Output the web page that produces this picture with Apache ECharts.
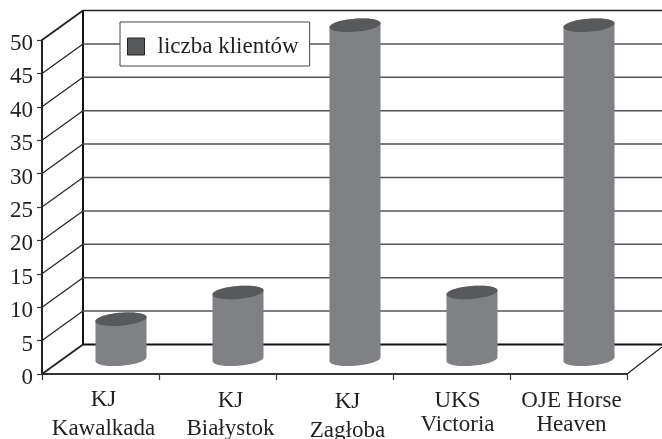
<!DOCTYPE html>
<html>
<head>
<meta charset="utf-8">
<title>liczba klientów</title>
<script src="https://cdn.jsdelivr.net/npm/echarts@6/dist/echarts.min.js"></script>
<style>
  html, body { margin: 0; padding: 0; background: #fff; }
  #chart { width: 662px; height: 439px; }
</style>
</head>
<body>
<div id="chart"></div>
<script>
// dane z wykresu
const categories = ['KJ\nKawalkada', 'KJ\nBiałystok', 'KJ\nZagłoba', 'UKS\nVictoria', 'OJE Horse\nHeaven']
const clients = [6, 10, 50, 10, 50]
const yTicks = [0, 5, 10, 15, 20, 25, 30, 35, 40, 45, 50]
const seriesName = 'liczba klientów'

const textColor = '#231f20'
const fontFamily = '"Liberation Serif", "Times New Roman", serif'
// przesuniecie tylnej sciany wzgledem przedniej osi
const depthX = 41
const depthY = -29.5
// korekty podpisow osi x: [przesuniecie x, wysokosc linii, odstep od gory]
const labelStyles = [[3, 29, 0], [13, 28, 2], [13, 29, 2], [6, 24, 4], [3, 24, 4]]

const chart = echarts.init(document.getElementById('chart'))

const wallStyle = (value) => ({
  stroke: value === 0 ? '#111' : value === 50 ? '#222' : '#555',
  lineWidth: value === 0 ? 2 : 1.5
})

// tylna sciana: linia pozioma i skos do osi y
const renderWall = (params, api) => {
  const value = api.value(0)
  const sys = params.coordSys
  const y = api.coord([0, value])[1]
  const left = sys.x
  const children = [
    {
      type: 'line',
      shape: { x1: left + depthX, y1: y + depthY, x2: 662, y2: y + depthY },
      style: wallStyle(value)
    },
    {
      type: 'line',
      shape: { x1: left, y1: y, x2: left + depthX, y2: y + depthY },
      style: { stroke: '#222', lineWidth: value === 0 || value === 50 ? 1.8 : 1.2 }
    }
  ]
  if (value === 0) {
    children.push({
      type: 'line',
      shape: { x1: left + depthX, y1: y + depthY, x2: left + depthX, y2: api.coord([0, 50])[1] + depthY },
      style: { stroke: '#111', lineWidth: 2 }
    })
    children.push({
      type: 'line',
      shape: { x1: left + sys.width, y1: y, x2: 662, y2: y - 27 },
      style: { stroke: '#222', lineWidth: 1.2 }
    })
  }
  return { type: 'group', children }
}

// pochylona elipsa podstawy walca
const ellipsePoints = (cx, cy, a, b, skew, from, to) => {
  const points = []
  for (let i = 0; i <= 36; i++) {
    const t = from + (to - from) * i / 36
    points.push([cx + a * Math.cos(t), cy + b * Math.sin(t) - skew * Math.cos(t)])
  }
  return points
}

const renderCylinder = (params, api) => {
  const bottom = api.coord([api.value(0), 0])
  const top = api.coord([api.value(0), api.value(1)])
  const a = api.size([1, 0])[0] * 0.218
  const cx = bottom[0] + depthX / 2
  const yBottom = bottom[1] + depthY / 2
  const yTop = top[1] + depthY / 2
  const b = 6.5
  const skew = 2
  const lower = ellipsePoints(cx, yBottom, a, b, skew, 0, Math.PI)
  const upper = ellipsePoints(cx, yTop, a, b, skew, Math.PI, Math.PI * 2)
  return {
    type: 'group',
    children: [
      {
        type: 'polygon',
        shape: { points: lower.concat(upper) },
        style: { fill: '#808184' }
      },
      {
        type: 'polygon',
        shape: { points: ellipsePoints(cx, yTop, a, b, skew, 0, Math.PI * 2) },
        style: { fill: '#58595b' }
      }
    ]
  }
}

const option = {
  animation: false,
  backgroundColor: '#fff',
  textStyle: { fontFamily },
  grid: { left: 42, top: 40, width: 585, height: 334, containLabel: false, outerBoundsMode: 'none' },
  legend: {
    data: [seriesName],
    left: 120,
    top: 22,
    padding: [13, 11, 8, 7],
    backgroundColor: '#fff',
    borderColor: '#444',
    borderWidth: 1,
    borderRadius: 0,
    itemWidth: 17,
    itemHeight: 17,
    itemGap: 0,
    icon: 'rect',
    selectedMode: false,
    itemStyle: { color: '#58595b', borderColor: '#222', borderWidth: 1 },
    textStyle: { color: textColor, fontFamily, fontSize: 23, padding: [0, 0, 0, 8] }
  },
  xAxis: {
    type: 'category',
    data: categories.map((value, i) => ({
      value,
      textStyle: {
        lineHeight: labelStyles[i][1],
        padding: [labelStyles[i][2], 0, 0, labelStyles[i][0] * 2]
      }
    })),
    boundaryGap: true,
    axisLine: { lineStyle: { color: '#333', width: 2 } },
    axisTick: { show: true, alignWithLabel: false, length: 6, lineStyle: { color: '#333', width: 1.2 } },
    axisLabel: {
      color: textColor,
      fontFamily,
      fontSize: 23,
      margin: 11,
      interval: 0,
      hideOverlap: false
    },
    splitLine: { show: false }
  },
  yAxis: {
    type: 'value',
    min: 0,
    max: 50,
    interval: 5,
    axisLine: { show: true, lineStyle: { color: '#222', width: 2 } },
    axisTick: { show: true, length: 5, lineStyle: { color: '#333', width: 1.2 } },
    axisLabel: {
      color: textColor,
      fontFamily,
      fontSize: 23,
      margin: 9,
      verticalAlign: 'top',
      lineHeight: 8
    },
    splitLine: { show: false }
  },
  series: [
    {
      name: 'sciana',
      type: 'custom',
      coordinateSystem: 'cartesian2d',
      z: 1,
      silent: true,
      encode: { y: 0 },
      renderItem: renderWall,
      data: yTicks.map((v) => [v])
    },
    {
      name: seriesName,
      type: 'custom',
      coordinateSystem: 'cartesian2d',
      z: 3,
      itemStyle: { color: '#58595b' },
      encode: { x: 0, y: 1 },
      renderItem: renderCylinder,
      data: clients.map((v, i) => [i, v])
    }
  ]
}

chart.setOption(option)
</script>
</body>
</html>
